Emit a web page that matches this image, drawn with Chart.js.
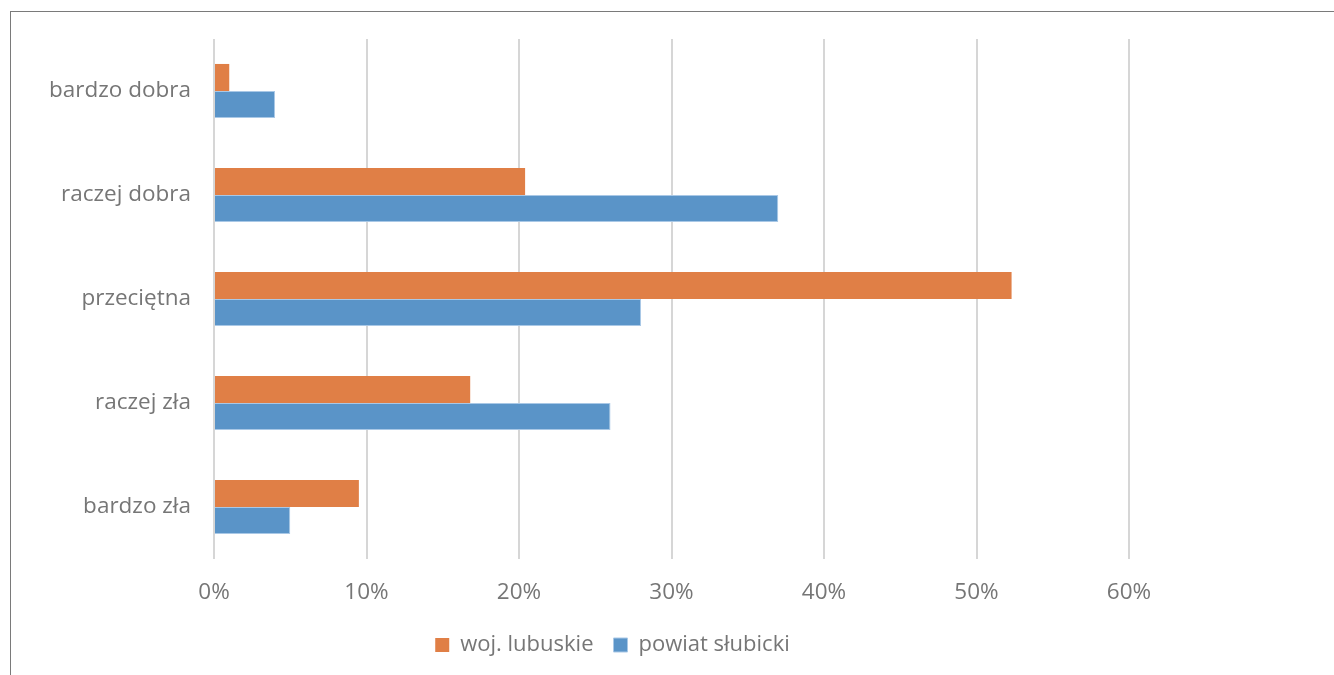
<!DOCTYPE html>
<html>
<head>
<meta charset="utf-8">
<script src="https://cdn.jsdelivr.net/npm/chart.js@4"></script>
<style>
  html, body { margin: 0; padding: 0; background: #fff; }
  #frame {
    position: absolute; left: 10px; top: 11px; width: 1330px; height: 670px;
    border-top: 1.5px solid #7a7a7a; border-left: 1.5px solid #7a7a7a;
  }
  #wrap { position: absolute; left: 0; top: 0; width: 1334px; height: 675px; }
</style>
</head>
<body>
<div id="frame"></div>
<div id="wrap"><canvas id="chart"></canvas></div>
<script>
// ── Data ─────────────────────────────────────────────────────────────────────

const categories = ['bardzo dobra', 'raczej dobra', 'przeciętna', 'raczej zła', 'bardzo zła'];
const lubuskie = [1.0, 20.4, 52.3, 16.8, 9.5];
const slubicki = [4.0, 37.0, 28.0, 26.0, 5.0];
const xTicks = [0, 10, 20, 30, 40, 50, 60];

const textColor = '#767676';
const gridColor = '#d6d6d6';

Chart.defaults.font.family = "'Open Sans', Lato, sans-serif";
Chart.defaults.font.size = 22.5;
Chart.defaults.color = textColor;

// the legend in the original is centred on the whole frame, not on the plot
const legendShift = {
  id: 'legendShift',
  afterLayout(chart) {
    const l = chart.legend;
    if (!l) return;
    l.left += 48;
    l.right += 48;
  }
};

const chart = new Chart(document.getElementById('chart'), {
  type: 'bar',
  data: {
    labels: categories,
    datasets: [
      {
        label: 'woj. lubuskie',
        data: lubuskie,
        backgroundColor: '#e07f46',
        borderWidth: 0,
        barPercentage: 1,
        categoryPercentage: 0.52,
      },
      {
        label: 'powiat słubicki',
        data: slubicki,
        backgroundColor: '#5a94c8',
        borderColor: '#a9c8e6',
        borderWidth: 1,
        barPercentage: 1,
        categoryPercentage: 0.52,
      }
    ]
  },
  options: {
    indexAxis: 'y',
    responsive: true,
    maintainAspectRatio: false,
    animation: false,
    layout: { padding: { top: 39, left: 0, right: 205, bottom: 9 } },
    plugins: {
      legend: {
        position: 'bottom',
        labels: {
          color: textColor,
          boxWidth: 14,
          boxHeight: 14,
          padding: 20,
          font: { size: 22 }
        }
      },
      tooltip: { enabled: false }
    },
    scales: {
      x: {
        min: 0,
        max: 60,
        afterBuildTicks: scale => { scale.ticks = xTicks.map(v => ({ value: v })); },
        afterFit: scale => { scale.height -= 12; },
        ticks: { color: textColor, padding: 20, callback: v => v + '%' },
        grid: { color: gridColor, lineWidth: 2, drawTicks: false },
        border: { display: false }
      },
      y: {
        afterFit: scale => { scale.width = 214; },
        ticks: { color: textColor, padding: 23 },
        grid: { display: false, drawTicks: false },
        border: { display: false }
      }
    }
  },
  plugins: [legendShift]
});
</script>
</body>
</html>
